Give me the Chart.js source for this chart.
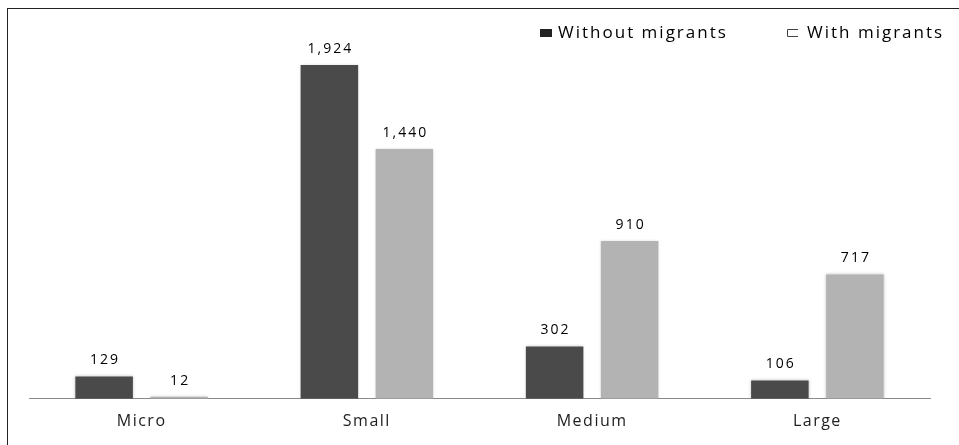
<!DOCTYPE html>
<html>
<head>
<meta charset="utf-8">
<script src="https://cdn.jsdelivr.net/npm/chart.js@4.4.1/dist/chart.umd.min.js"></script>
<style>
  html, body { margin: 0; padding: 0; background: #fff; }
  #wrap { position: relative; width: 959px; height: 445px; }
  #frame {
    position: absolute; left: 7px; top: 8px; right: 0; bottom: 0;
    border-left: 1px solid #222; border-top: 1px solid #222;
    pointer-events: none;
  }
</style>
</head>
<body>
<div id="wrap">
  <canvas id="myChart" width="959" height="445"></canvas>
  <div id="frame"></div>
</div>
<script>
const categories = ["Micro", "Small", "Medium", "Large"];
const withoutMigrants = [129, 1924, 302, 106];
const withMigrants = [12, 1440, 910, 717];
const seriesNames = ["Without migrants", "With migrants"];

const fontFamily = "'Open Sans', sans-serif";

//wider letter spacing for every text the chart draws (tick labels too)
const spacing = {
  id: "spacing",
  beforeDraw(chart) {
    chart.ctx.letterSpacing = "1.5px";
  },
};

//shadow around bars, like the soft halo in the original
const barHalo = {
  id: "barHalo",
  beforeDatasetsDraw(chart) {
    const ctx = chart.ctx;
    ctx.save();
    ctx.shadowColor = "rgba(0,0,0,0.22)";
    ctx.shadowBlur = 3;
  },
  afterDatasetsDraw(chart) {
    chart.ctx.restore();
  },
};

//value labels above each bar
const valueLabels = {
  id: "valueLabels",
  afterDatasetsDraw(chart) {
    const ctx = chart.ctx;
    ctx.save();
    ctx.font = "14px " + fontFamily;
    ctx.letterSpacing = "2px";
    ctx.fillStyle = "#000";
    ctx.textAlign = "center";
    ctx.textBaseline = "alphabetic";
    chart.data.datasets.forEach((ds, i) => {
      chart.getDatasetMeta(i).data.forEach((bar, j) => {
        ctx.fillText(ds.data[j].toLocaleString("en-US"), bar.x + 1, bar.y - 12);
      });
    });
    ctx.restore();
  },
};

//legend drawn by hand so the wide gap between items matches
const customLegend = {
  id: "customLegend",
  afterDraw(chart) {
    const ctx = chart.ctx;
    ctx.save();
    ctx.font = "17px " + fontFamily;
    ctx.letterSpacing = "2px";
    ctx.textBaseline = "middle";
    const y = 33;
    let x = 540;
    // filled marker
    ctx.fillStyle = "#222";
    ctx.fillRect(x, y - 4, 12, 8);
    ctx.fillStyle = "#000";
    ctx.fillText(seriesNames[0], x + 18, y);
    x = 787;
    // open marker (no right side)
    ctx.strokeStyle = "#444";
    ctx.lineWidth = 1;
    ctx.beginPath();
    ctx.moveTo(x + 11, y - 3.5);
    ctx.lineTo(x + 0.5, y - 3.5);
    ctx.lineTo(x + 0.5, y + 3.5);
    ctx.lineTo(x + 11, y + 3.5);
    ctx.stroke();
    ctx.fillText(seriesNames[1], x + 20, y);
    ctx.restore();
  },
};

const data = {
  labels: categories,
  datasets: [
    {
      label: seriesNames[0],
      data: withoutMigrants,
      backgroundColor: "#4a4a4a",
      categoryPercentage: 0.666,
      barPercentage: 0.767,
    },
    {
      label: seriesNames[1],
      data: withMigrants,
      backgroundColor: "#b3b3b3",
      categoryPercentage: 0.666,
      barPercentage: 0.767,
    },
  ],
};

const config = {
  type: "bar",
  data,
  options: {
    responsive: false,
    animation: false,
    layout: { padding: { left: 29, right: 29, top: 50, bottom: 1 } },
    scales: {
      x: {
        grid: { display: false, drawTicks: false },
        border: { display: true, color: "#8a8a8a", width: 1 },
        ticks: {
          color: "#222",
          padding: 13,
          font: { family: fontFamily, size: 16 },
        },
      },
      y: {
        display: false,
        min: 0,
        max: 2010,
      },
    },
    plugins: { legend: { display: false }, tooltip: { enabled: false } },
  },
  plugins: [spacing, barHalo, valueLabels, customLegend],
};

let myChart = new Chart(document.getElementById("myChart"), config);
</script>
</body>
</html>
